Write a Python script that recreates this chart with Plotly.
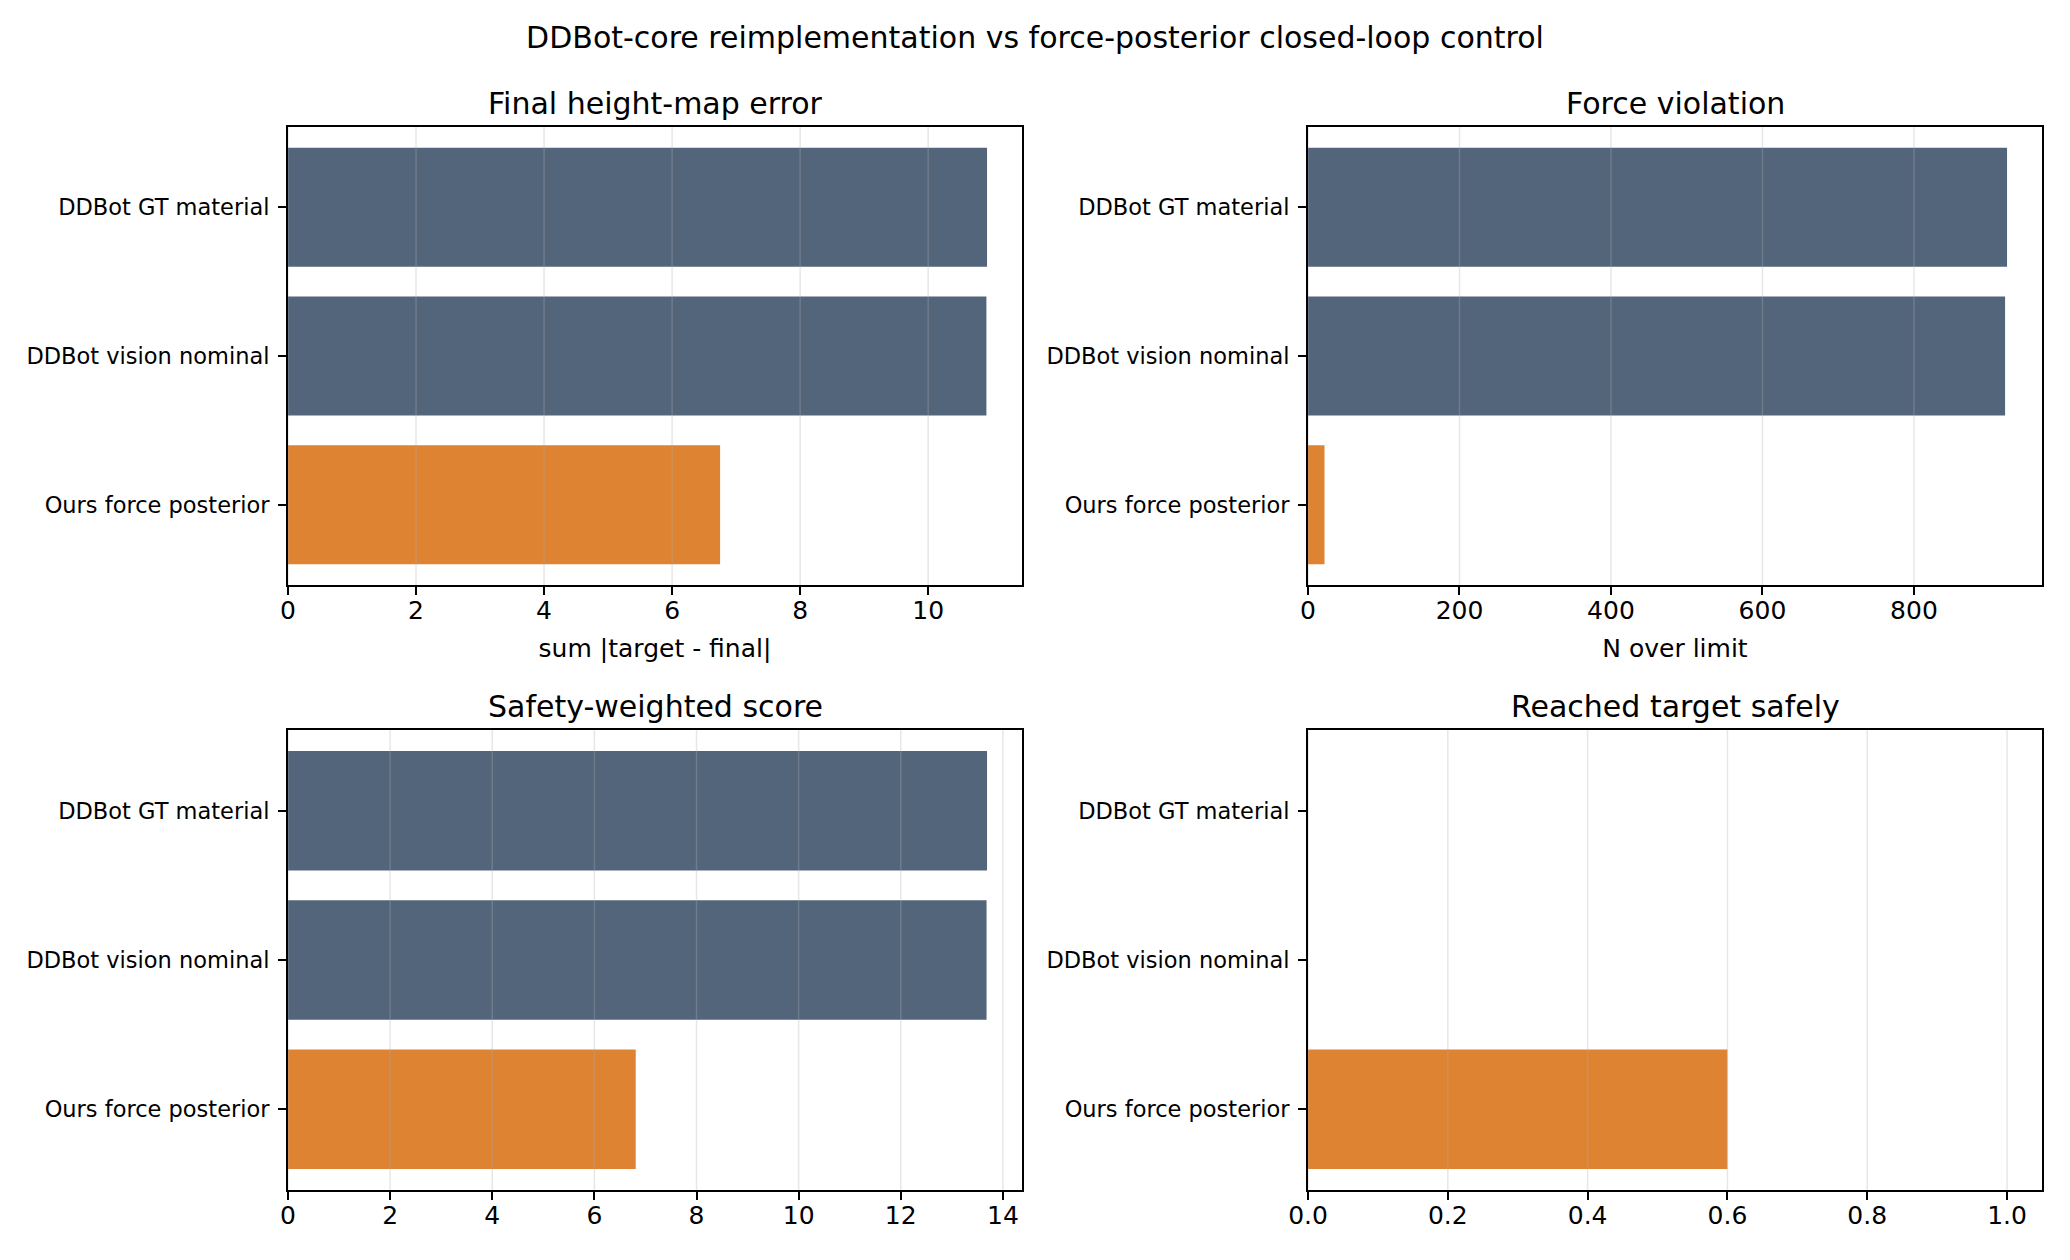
import plotly.graph_objects as go
from plotly.subplots import make_subplots

# ---- data ----
methods = ["Ours force posterior", "DDBot vision nominal", "DDBot GT material"]  # bottom -> top
height_err = [6.75, 10.91, 10.92]
force_violation = [21.8, 920.3, 922.9]
safety_score = [6.81, 13.68, 13.69]
reached_safely = [0.6, 0.0, 0.0]
bar_colors = ["#DD8332", "#52657A", "#52657A"]

panel_titles = ["Final height-map error", "Force violation", "Safety-weighted score", "Reached target safely"]
x_titles = ["sum |target - final|", "N over limit", "", ""]
x_ticks = [[0, 2, 4, 6, 8, 10], [0, 200, 400, 600, 800], [0, 2, 4, 6, 8, 10, 12, 14], [0.0, 0.2, 0.4, 0.6, 0.8, 1.0]]
x_ranges = [[0, 10.92 * 1.05], [0, 922.9 * 1.05], [0, 13.69 * 1.05], [0, 1.05]]
suptitle = "DDBot-core reimplementation vs force-posterior closed-loop control"

W, H = 2070, 1260
FONT = "DejaVu Sans"

fig = make_subplots(rows=2, cols=2)
series = [height_err, force_violation, safety_score, reached_safely]
cells = [(1, 1), (1, 2), (2, 1), (2, 2)]
for s, (r, c) in zip(series, cells):
    fig.add_trace(go.Bar(x=s, y=methods, orientation="h", width=0.8,
                         marker=dict(color=bar_colors, line=dict(width=0)),
                         showlegend=False), row=r, col=c)

xdom = [[288 / W, 1022 / W], [1308 / W, 2042 / W]]
ydom = [[1 - 585 / H, 1 - 127 / H], [1 - 1190 / H, 1 - 730 / H]]

for i, (r, c) in enumerate(cells):
    xa = "xaxis" if i == 0 else f"xaxis{i+1}"
    ya = "yaxis" if i == 0 else f"yaxis{i+1}"
    xref = "x" if i == 0 else f"x{i+1}"
    fmt = ".1f" if i == 3 else ""
    fig.layout[xa].update(domain=xdom[c - 1], range=x_ranges[i], tickvals=x_ticks[i],
                          tickformat=fmt, showgrid=False, zeroline=False, automargin=False,
                          showline=True, linecolor="black", linewidth=2, mirror=True,
                          ticks="outside", ticklen=8, tickwidth=2, tickcolor="black",
                          ticklabelstandoff=-6,
                          tickfont=dict(size=25, color="black", family=FONT),
                          title=dict(text=x_titles[i], font=dict(size=25, color="black", family=FONT),
                                     standoff=15))
    fig.layout[ya].update(domain=ydom[r - 1], range=[-0.54, 2.54], showgrid=False, zeroline=False,
                          automargin=False,
                          showline=True, linecolor="black", linewidth=2, mirror=True,
                          ticks="outside", ticklen=8, tickwidth=2, tickcolor="black",
                          ticklabelstandoff=4,
                          tickfont=dict(size=22.5, color="black", family=FONT),
                          categoryorder="array", categoryarray=methods)
    # vertical grid lines drawn above the bars (like the reference)
    for v in x_ticks[i]:
        fig.add_shape(type="line", xref=xref, yref=f"{'y' if i == 0 else 'y' + str(i+1)} domain",
                      x0=v, x1=v, y0=0, y1=1, layer="above",
                      line=dict(color="rgba(176,176,176,0.3)", width=1.5))
    fig.add_annotation(text=panel_titles[i], xref="paper", yref="paper",
                       x=sum(xdom[c - 1]) / 2, y=ydom[r - 1][1], yanchor="bottom", xanchor="center",
                       yshift=4, showarrow=False, font=dict(size=30, color="black", family=FONT))

fig.update_layout(
    width=W, height=H, margin=dict(l=0, r=0, t=0, b=0, autoexpand=False),
    paper_bgcolor="white", plot_bgcolor="white",
    font=dict(family=FONT, color="black"),
    title=dict(text=suptitle, x=0.5, xanchor="center", y=1 - 37 / H, yanchor="middle",
               font=dict(size=30, color="black", family=FONT)),
    bargap=0.2,
)

fig.write_html("out.html")
